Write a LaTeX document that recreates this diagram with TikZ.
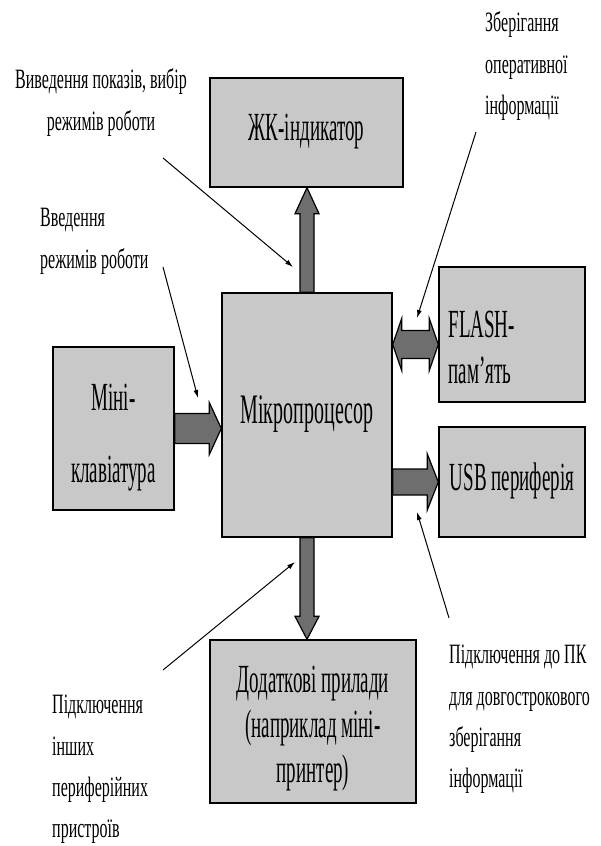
\documentclass[tikz,border=0pt]{standalone}
\usepackage{fontspec}
\setmainfont{Liberation Serif}
\usepackage{graphicx}
\usetikzlibrary{arrows.meta, calc}
\definecolor{boxgray}{HTML}{C8C8C8}
\definecolor{arrgray}{HTML}{6E6E6E}
\newcommand{\boxtext}[2][c]{\scalebox{1}[2.1]{\begin{tabular}{@{}#1@{}}#2\end{tabular}}}
\newcommand{\notetext}[2][l]{\scalebox{1}[1.75]{\begin{tabular}{@{}#1@{}}#2\end{tabular}}}

\begin{document}
\begin{tikzpicture}[x=1pt, y=-1pt,
  blk/.style={draw=black, line width=1.4pt, fill=boxgray, inner sep=0pt, font=\fontsize{19}{20}\selectfont},
  boxlabel/.style={inner sep=0pt, font=\fontsize{19}{20}\selectfont},
  blockarrow/.style={draw=black, line width=1.2pt, fill=arrgray, line join=miter},
  note/.style={inner sep=0pt, font=\fontsize{16}{23.5}\selectfont},
  pointer/.style={-{Latex[length=8pt, width=5pt]}, line width=1pt}]

% Background
\fill[white] (0,0) rectangle (600,846);
\useasboundingbox (0,0) rectangle (600,846);

% Blocks
\node[blk, minimum width=193pt, minimum height=109pt] (lcd) at (306.5,132.5) {\boxtext{ЖК-індикатор}};
\node[blk, minimum width=170pt, minimum height=244pt, font=\fontsize{20}{21}\selectfont] (micro) at (307,415) {\boxtext{Мікропроцесор}};
\node[blk, minimum width=121pt, minimum height=163pt] (kbd) at (113.5,428.5) {};
\node[boxlabel, anchor=north] (kbdtext) at ($(kbd.north)+(0,35)$) {\boxtext{Міні-\\[14pt]клавіатура}};
\node[blk, minimum width=146pt, minimum height=135pt] (flash) at (512,334.5) {};
\node[boxlabel, anchor=north west] (flashtext) at ($(flash.north west)+(10,42)$) {\boxtext[l]{FLASH-\\[1.5pt]пам’ять}};
\node[blk, minimum width=146pt, minimum height=110pt] (usb) at (512,482) {\boxtext{USB периферія}};
\node[blk, minimum width=206pt, minimum height=163pt] (extra) at (313,721.5) {};
\node[boxlabel, anchor=north, font=\fontsize{19}{21.5}\selectfont] (extratext) at ($(extra.north)+(0,21)$) {\boxtext{Додаткові прилади\\(наприклад міні-\\принтер)}};

% Block arrows
\coordinate (upA) at (micro.north);
\coordinate (upB) at (micro.north |- lcd.south);
\filldraw[blockarrow] ($(upA)+(-7,0)$) -- ($(upB)+(-7,26)$) -- ($(upB)+(-12,26)$) -- (upB)
  -- ($(upB)+(12,26)$) -- ($(upB)+(7,26)$) -- ($(upA)+(7,0)$) -- cycle;

\coordinate (kbA) at (kbd.east);
\coordinate (kbB) at (kbd.east -| micro.west);
\filldraw[blockarrow] ($(kbA)+(0,-15)$) -- ($(kbB)+(-12,-15)$) -- ($(kbB)+(-12,-26)$) -- (kbB)
  -- ($(kbB)+(-12,26)$) -- ($(kbB)+(-12,15)$) -- ($(kbA)+(0,15)$) -- cycle;

\coordinate (flB) at ($(flash.west)+(0,10)$);
\coordinate (flA) at (flB -| micro.east);
\filldraw[blockarrow] (flA) -- ($(flA)+(9,-26)$) -- ($(flA)+(9,-14)$) -- ($(flB)+(-9,-14)$) -- ($(flB)+(-9,-26)$) -- (flB)
  -- ($(flB)+(-9,26)$) -- ($(flB)+(-9,14)$) -- ($(flA)+(9,14)$) -- ($(flA)+(9,26)$) -- cycle;

\coordinate (usB) at (usb.west);
\coordinate (usA) at (usb.west -| micro.east);
\filldraw[blockarrow] ($(usA)+(0,-13)$) -- ($(usB)+(-11,-13)$) -- ($(usB)+(-11,-28)$) -- (usB)
  -- ($(usB)+(-11,28)$) -- ($(usB)+(-11,13)$) -- ($(usA)+(0,13)$) -- cycle;

\coordinate (dnA) at (micro.south);
\coordinate (dnB) at (micro.south |- extra.north);
\filldraw[blockarrow] ($(dnA)+(-7,0)$) -- ($(dnB)+(-7,-23)$) -- ($(dnB)+(-12,-23)$) -- (dnB)
  -- ($(dnB)+(12,-23)$) -- ($(dnB)+(7,-23)$) -- ($(dnA)+(7,0)$) -- cycle;

% Notes
\node[note, anchor=north] (n1) at (101,60) {\notetext[c]{Виведення показів, вибір\\режимів роботи}};
\node[note, anchor=north west] (n2) at (40,198) {\notetext{Введення\\режимів роботи}};
\node[note, anchor=north west] (n3) at (485,3) {\notetext{Зберігання\\оперативної\\інформації}};
\node[note, anchor=north west] (n4) at (449,635) {\notetext{Підключення до ПК\\для довгострокового\\зберігання\\інформації}};
\node[note, anchor=north west] (n5) at (52,685) {\notetext{Підключення\\інших\\периферійних\\пристроїв}};

% Pointers
\coordinate (p1a) at (163,158);  \coordinate (p1b) at (293,267);
\coordinate (p2a) at (163,267);  \coordinate (p2b) at (198,398);
\coordinate (p3a) at (476,132);  \coordinate (p3b) at (417,318);
\coordinate (p4a) at (449,618);  \coordinate (p4b) at (417,512);
\coordinate (p5a) at (163,670);  \coordinate (p5b) at (295,562);
\draw[pointer] (p1a) -- (p1b);
\draw[pointer] (p2a) -- (p2b);
\draw[pointer] (p3a) -- (p3b);
\draw[pointer] (p4a) -- (p4b);
\draw[pointer] (p5a) -- (p5b);

\end{tikzpicture}
\end{document}
